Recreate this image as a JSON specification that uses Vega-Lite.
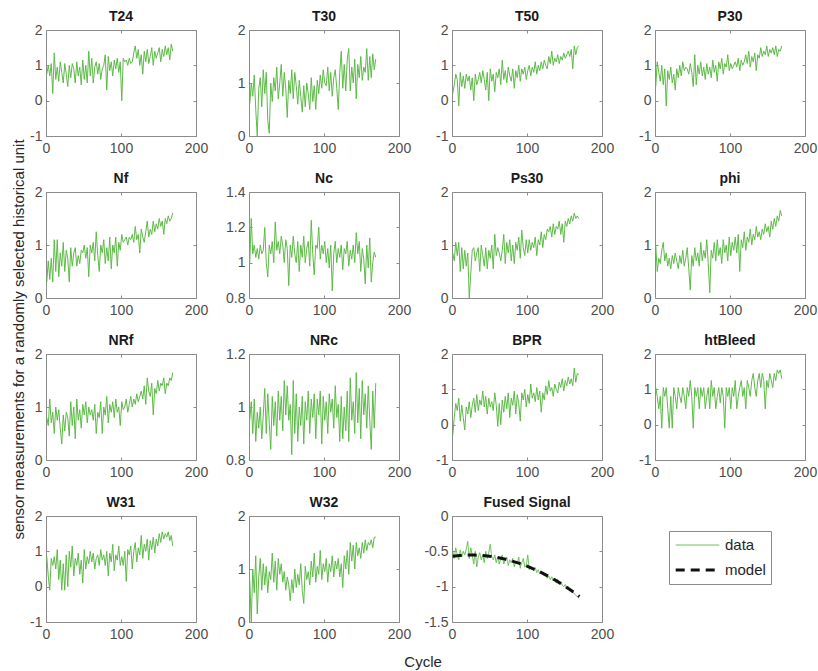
{
"$schema":"https://vega.github.io/schema/vega-lite/v6.json",
"padding":{"left":12,"top":9,"right":5,"bottom":5},
"title":{"text":"sensor measurements for a randomly selected historical unit","orient":"left","anchor":"middle","fontSize":15,"fontWeight":"normal","color":"#262626","offset":2},
"datasets":{
"sensors":[
{"c":1,"T24":0.75,"T30":0.6,"T50":0.2,"P30":0.4,"Nf":0.3,"Nc":1.0,"Ps30":0.85,"phi":1.0,"NRf":0.8,"NRc":0.95,"BPR":-0.3,"htBleed":1.05,"W31":0.85,"W32":0.8,"Fused":-0.5},
{"c":3,"T24":1.0,"T30":1.0,"T50":0.45,"P30":1.1,"Nf":0.7,"Nc":1.25,"Ps30":0.7,"phi":0.5,"NRf":0.65,"NRc":1.02,"BPR":0.2,"htBleed":0.8,"W31":0.3,"W32":0.0,"Fused":-0.6},
{"c":5,"T24":0.7,"T30":0.75,"T50":0.75,"P30":0.8,"Nf":0.35,"Nc":1.05,"Ps30":1.05,"phi":0.75,"NRf":1.15,"NRc":0.9,"BPR":0.6,"htBleed":0.45,"W31":-0.1,"W32":1.0,"Fused":-0.45},
{"c":7,"T24":1.05,"T30":1.15,"T50":0.6,"P30":0.55,"Nf":0.75,"Nc":1.1,"Ps30":0.8,"phi":0.65,"NRf":0.7,"NRc":1.03,"BPR":0.4,"htBleed":0.8,"W31":0.8,"W32":0.55,"Fused":-0.55},
{"c":9,"T24":0.2,"T30":0.5,"T50":-0.15,"P30":1.0,"Nf":0.3,"Nc":1.03,"Ps30":1.05,"phi":0.9,"NRf":0.9,"NRc":0.87,"BPR":0.75,"htBleed":-0.1,"W31":0.6,"W32":1.25,"Fused":-0.62},
{"c":11,"T24":1.35,"T30":0.0,"T50":0.8,"P30":0.45,"Nf":1.1,"Nc":1.08,"Ps30":0.5,"phi":1.05,"NRf":0.5,"NRc":0.98,"BPR":0.1,"htBleed":1.05,"W31":0.85,"W32":0.15,"Fused":-0.48},
{"c":13,"T24":0.6,"T30":0.9,"T50":0.4,"P30":0.9,"Nf":0.5,"Nc":1.02,"Ps30":0.95,"phi":0.7,"NRf":1.0,"NRc":0.92,"BPR":0.55,"htBleed":0.8,"W31":0.5,"W32":0.85,"Fused":-0.58},
{"c":15,"T24":0.95,"T30":1.1,"T50":0.7,"P30":-0.15,"Nf":1.1,"Nc":1.1,"Ps30":0.55,"phi":0.85,"NRf":0.75,"NRc":1.0,"BPR":0.2,"htBleed":1.05,"W31":1.05,"W32":1.2,"Fused":-0.5},
{"c":17,"T24":0.55,"T30":0.55,"T50":0.35,"P30":0.85,"Nf":0.4,"Nc":1.05,"Ps30":0.9,"phi":0.6,"NRf":0.95,"NRc":0.88,"BPR":-0.15,"htBleed":0.45,"W31":0.2,"W32":0.6,"Fused":-0.55},
{"c":19,"T24":1.1,"T30":1.25,"T50":0.75,"P30":0.6,"Nf":0.85,"Nc":1.07,"Ps30":0.6,"phi":0.75,"NRf":0.6,"NRc":0.97,"BPR":0.5,"htBleed":-0.1,"W31":0.75,"W32":1.1,"Fused":-0.47},
{"c":21,"T24":0.8,"T30":0.8,"T50":0.55,"P30":0.95,"Nf":0.6,"Nc":1.2,"Ps30":0.85,"phi":0.55,"NRf":0.3,"NRc":1.07,"BPR":0.3,"htBleed":0.8,"W31":-0.1,"W32":0.7,"Fused":-0.36},
{"c":23,"T24":0.5,"T30":1.2,"T50":0.7,"P30":0.5,"Nf":1.05,"Nc":1.0,"Ps30":0.0,"phi":0.8,"NRf":0.85,"NRc":0.9,"BPR":0.65,"htBleed":-0.1,"W31":0.65,"W32":1.05,"Fused":-0.6},
{"c":25,"T24":1.05,"T30":0.3,"T50":0.3,"P30":0.75,"Nf":0.5,"Nc":0.92,"Ps30":0.45,"phi":0.65,"NRf":0.55,"NRc":1.05,"BPR":0.2,"htBleed":1.05,"W31":-0.1,"W32":0.55,"Fused":-0.45},
{"c":27,"T24":0.75,"T30":0.05,"T50":0.65,"P30":0.3,"Nf":0.9,"Nc":1.1,"Ps30":0.9,"phi":0.85,"NRf":0.9,"NRc":0.94,"BPR":0.55,"htBleed":0.8,"W31":0.9,"W32":0.95,"Fused":-0.55},
{"c":29,"T24":0.4,"T30":1.0,"T50":0.0,"P30":0.9,"Nf":0.75,"Nc":1.05,"Ps30":0.95,"phi":0.7,"NRf":0.8,"NRc":0.84,"BPR":0.75,"htBleed":0.45,"W31":0.0,"W32":0.8,"Fused":-0.68},
{"c":31,"T24":1.0,"T30":0.65,"T50":0.75,"P30":0.65,"Nf":0.3,"Nc":1.12,"Ps30":0.7,"phi":0.55,"NRf":0.45,"NRc":1.04,"BPR":0.35,"htBleed":1.05,"W31":1.0,"W32":1.3,"Fused":-0.5},
{"c":33,"T24":0.65,"T30":1.1,"T50":0.45,"P30":1.0,"Nf":0.95,"Nc":1.0,"Ps30":0.85,"phi":0.8,"NRf":1.1,"NRc":0.93,"BPR":0.85,"htBleed":0.8,"W31":0.55,"W32":0.75,"Fused":-0.72},
{"c":35,"T24":1.05,"T30":0.85,"T50":0.6,"P30":0.7,"Nf":0.6,"Nc":1.23,"Ps30":0.95,"phi":0.65,"NRf":0.65,"NRc":1.02,"BPR":0.4,"htBleed":0.62,"W31":1.15,"W32":1.15,"Fused":-0.58},
{"c":37,"T24":0.9,"T30":1.3,"T50":0.8,"P30":1.1,"Nf":0.85,"Nc":1.07,"Ps30":0.5,"phi":0.9,"NRf":1.0,"NRc":0.89,"BPR":0.7,"htBleed":1.05,"W31":0.3,"W32":0.6,"Fused":-0.52},
{"c":39,"T24":0.5,"T30":0.7,"T50":0.5,"P30":0.85,"Nf":0.95,"Nc":1.12,"Ps30":1.0,"phi":0.6,"NRf":0.4,"NRc":1.06,"BPR":0.55,"htBleed":0.8,"W31":0.8,"W32":1.2,"Fused":-0.62},
{"c":41,"T24":1.1,"T30":1.0,"T50":0.85,"P30":0.95,"Nf":0.6,"Nc":1.05,"Ps30":0.8,"phi":0.75,"NRf":1.15,"NRc":0.95,"BPR":0.95,"htBleed":0.45,"W31":0.6,"W32":0.9,"Fused":-0.55},
{"c":43,"T24":0.7,"T30":1.35,"T50":0.6,"P30":0.9,"Nf":0.8,"Nc":1.15,"Ps30":0.6,"phi":0.95,"NRf":0.75,"NRc":1.04,"BPR":0.5,"htBleed":1.05,"W31":0.95,"W32":1.1,"Fused":-0.66},
{"c":45,"T24":0.95,"T30":0.75,"T50":0.3,"P30":0.75,"Nf":0.65,"Nc":1.1,"Ps30":0.95,"phi":0.55,"NRf":0.95,"NRc":0.91,"BPR":0.8,"htBleed":0.8,"W31":0.35,"W32":0.75,"Fused":-0.5},
{"c":47,"T24":0.45,"T30":1.2,"T50":0.8,"P30":1.05,"Nf":0.9,"Nc":1.0,"Ps30":0.55,"phi":0.15,"NRf":0.6,"NRc":1.1,"BPR":0.3,"htBleed":1.25,"W31":0.75,"W32":0.95,"Fused":-0.6},
{"c":49,"T24":1.15,"T30":0.9,"T50":0.0,"P30":0.8,"Nf":0.85,"Nc":1.13,"Ps30":0.9,"phi":0.8,"NRf":1.05,"NRc":0.97,"BPR":0.75,"htBleed":0.8,"W31":0.1,"W32":0.6,"Fused":-0.52},
{"c":51,"T24":0.6,"T30":0.35,"T50":0.9,"P30":0.4,"Nf":1.0,"Nc":1.08,"Ps30":0.75,"phi":0.6,"NRf":0.85,"NRc":1.08,"BPR":0.5,"htBleed":-0.1,"W31":1.05,"W32":0.85,"Fused":-0.4},
{"c":53,"T24":1.0,"T30":1.05,"T50":0.55,"P30":1.3,"Nf":0.75,"Nc":0.87,"Ps30":1.0,"phi":0.95,"NRf":1.1,"NRc":0.95,"BPR":0.65,"htBleed":1.05,"W31":0.5,"W32":0.7,"Fused":-0.58},
{"c":55,"T24":0.5,"T30":0.8,"T50":0.75,"P30":0.45,"Nf":0.95,"Nc":1.1,"Ps30":0.55,"phi":0.7,"NRf":0.7,"NRc":1.01,"BPR":0.4,"htBleed":0.8,"W31":0.85,"W32":0.4,"Fused":-0.62},
{"c":57,"T24":1.4,"T30":1.25,"T50":0.25,"P30":1.0,"Nf":0.4,"Nc":1.03,"Ps30":1.2,"phi":0.85,"NRf":1.0,"NRc":0.82,"BPR":0.9,"htBleed":1.05,"W31":0.65,"W32":0.8,"Fused":-0.55},
{"c":59,"T24":0.7,"T30":0.7,"T50":0.8,"P30":0.75,"Nf":1.0,"Nc":1.15,"Ps30":0.8,"phi":0.6,"NRf":0.85,"NRc":1.1,"BPR":0.55,"htBleed":0.45,"W31":1.0,"W32":0.55,"Fused":-0.66},
{"c":61,"T24":1.2,"T30":1.2,"T50":0.65,"P30":1.1,"Nf":0.85,"Nc":1.05,"Ps30":0.95,"phi":1.05,"NRf":0.95,"NRc":0.9,"BPR":-0.05,"htBleed":1.05,"W31":0.7,"W32":1.0,"Fused":-0.58},
{"c":63,"T24":0.5,"T30":0.95,"T50":0.9,"P30":0.7,"Nf":1.05,"Nc":1.0,"Ps30":0.85,"phi":0.7,"NRf":0.75,"NRc":1.05,"BPR":0.6,"htBleed":0.8,"W31":0.95,"W32":0.65,"Fused":-0.68},
{"c":65,"T24":0.95,"T30":0.6,"T50":0.45,"P30":0.95,"Nf":0.7,"Nc":1.12,"Ps30":0.7,"phi":0.9,"NRf":1.05,"NRc":0.87,"BPR":0.0,"htBleed":1.05,"W31":0.5,"W32":0.9,"Fused":-0.6},
{"c":67,"T24":1.1,"T30":1.05,"T50":1.15,"P30":0.6,"Nf":1.25,"Nc":0.95,"Ps30":0.9,"phi":0.75,"NRf":0.5,"NRc":1.0,"BPR":0.7,"htBleed":0.45,"W31":0.8,"W32":0.7,"Fused":-0.55},
{"c":69,"T24":0.75,"T30":0.75,"T50":0.6,"P30":1.05,"Nf":0.8,"Nc":1.1,"Ps30":1.2,"phi":1.1,"NRf":0.9,"NRc":0.93,"BPR":0.35,"htBleed":0.8,"W31":0.9,"W32":1.1,"Fused":-0.68},
{"c":71,"T24":1.05,"T30":0.45,"T50":0.85,"P30":0.75,"Nf":0.5,"Nc":1.03,"Ps30":0.65,"phi":0.65,"NRf":0.8,"NRc":1.04,"BPR":0.8,"htBleed":1.05,"W31":0.6,"W32":0.6,"Fused":-0.62},
{"c":73,"T24":0.6,"T30":0.95,"T50":0.5,"P30":0.95,"Nf":1.0,"Nc":1.15,"Ps30":1.05,"phi":0.1,"NRf":1.1,"NRc":0.86,"BPR":0.45,"htBleed":0.45,"W31":1.05,"W32":0.35,"Fused":-0.58},
{"c":75,"T24":0.9,"T30":0.55,"T50":0.95,"P30":0.65,"Nf":0.85,"Nc":1.0,"Ps30":0.85,"phi":0.9,"NRf":0.5,"NRc":1.02,"BPR":0.9,"htBleed":1.25,"W31":0.75,"W32":1.05,"Fused":-0.7},
{"c":77,"T24":1.0,"T30":1.0,"T50":0.7,"P30":1.15,"Nf":1.1,"Nc":1.08,"Ps30":1.1,"phi":0.75,"NRf":1.0,"NRc":0.95,"BPR":0.2,"htBleed":0.8,"W31":0.9,"W32":0.8,"Fused":-0.62},
{"c":79,"T24":1.3,"T30":0.8,"T50":0.55,"P30":0.8,"Nf":0.65,"Nc":1.12,"Ps30":0.7,"phi":1.05,"NRf":0.85,"NRc":1.06,"BPR":0.75,"htBleed":1.05,"W31":0.6,"W32":0.95,"Fused":-0.66},
{"c":81,"T24":0.3,"T30":0.5,"T50":0.9,"P30":1.0,"Nf":0.95,"Nc":0.98,"Ps30":1.0,"phi":0.7,"NRf":1.2,"NRc":0.9,"BPR":0.55,"htBleed":0.45,"W31":1.0,"W32":0.7,"Fused":-0.6},
{"c":83,"T24":1.25,"T30":1.1,"T50":0.35,"P30":0.55,"Nf":0.7,"Nc":1.24,"Ps30":0.65,"phi":1.1,"NRf":0.7,"NRc":1.03,"BPR":0.95,"htBleed":0.8,"W31":0.3,"W32":1.15,"Fused":-0.72},
{"c":85,"T24":0.85,"T30":0.65,"T50":0.85,"P30":1.1,"Nf":1.15,"Nc":1.05,"Ps30":1.05,"phi":0.8,"NRf":1.05,"NRc":0.96,"BPR":0.3,"htBleed":1.05,"W31":0.95,"W32":0.85,"Fused":-0.64},
{"c":87,"T24":1.1,"T30":0.95,"T50":0.65,"P30":0.9,"Nf":0.55,"Nc":0.93,"Ps30":0.9,"phi":0.95,"NRf":0.9,"NRc":1.05,"BPR":0.85,"htBleed":0.62,"W31":0.7,"W32":1.3,"Fused":-0.68},
{"c":89,"T24":0.7,"T30":0.5,"T50":1.0,"P30":1.2,"Nf":1.0,"Nc":1.1,"Ps30":1.15,"phi":0.65,"NRf":1.1,"NRc":0.88,"BPR":0.6,"htBleed":1.05,"W31":1.2,"W32":0.75,"Fused":-0.58},
{"c":91,"T24":1.15,"T30":1.05,"T50":0.55,"P30":0.75,"Nf":0.85,"Nc":1.08,"Ps30":0.75,"phi":1.1,"NRf":0.8,"NRc":1.03,"BPR":0.1,"htBleed":0.8,"W31":0.45,"W32":1.05,"Fused":-0.74},
{"c":93,"T24":0.9,"T30":0.8,"T50":0.9,"P30":1.05,"Nf":1.15,"Nc":1.2,"Ps30":1.28,"phi":0.85,"NRf":1.15,"NRc":0.97,"BPR":0.9,"htBleed":-0.1,"W31":0.9,"W32":0.9,"Fused":-0.66},
{"c":95,"T24":1.2,"T30":1.15,"T50":0.75,"P30":0.95,"Nf":0.6,"Nc":1.02,"Ps30":0.95,"phi":1.0,"NRf":0.9,"NRc":1.06,"BPR":0.7,"htBleed":1.05,"W31":0.75,"W32":1.35,"Fused":-0.6},
{"c":97,"T24":0.8,"T30":0.9,"T50":0.95,"P30":1.3,"Nf":1.05,"Nc":1.1,"Ps30":0.8,"phi":0.7,"NRf":1.0,"NRc":0.86,"BPR":1.0,"htBleed":0.8,"W31":1.15,"W32":0.8,"Fused":-0.72},
{"c":99,"T24":1.1,"T30":1.25,"T50":0.6,"P30":0.85,"Nf":0.9,"Nc":1.05,"Ps30":1.1,"phi":1.15,"NRf":0.65,"NRc":1.04,"BPR":0.5,"htBleed":1.05,"W31":0.6,"W32":1.1,"Fused":-0.7},
{"c":101,"T24":0.0,"T30":1.0,"T50":0.85,"P30":1.05,"Nf":1.2,"Nc":1.12,"Ps30":0.85,"phi":0.8,"NRf":1.1,"NRc":0.95,"BPR":0.85,"htBleed":0.45,"W31":0.85,"W32":0.95,"Fused":-0.55},
{"c":103,"T24":1.2,"T30":0.95,"T50":1.0,"P30":0.9,"Nf":1.05,"Nc":1.0,"Ps30":1.1,"phi":1.05,"NRf":0.95,"NRc":1.02,"BPR":0.6,"htBleed":1.05,"W31":0.6,"W32":1.2,"Fused":-0.76},
{"c":105,"T24":1.1,"T30":1.3,"T50":0.7,"P30":1.0,"Nf":1.1,"Nc":1.08,"Ps30":0.9,"phi":0.9,"NRf":1.0,"NRc":0.9,"BPR":1.15,"htBleed":0.8,"W31":1.0,"W32":0.75,"Fused":-0.72},
{"c":107,"T24":1.15,"T30":0.85,"T50":0.95,"P30":1.1,"Nf":1.15,"Nc":0.97,"Ps30":1.05,"phi":1.15,"NRf":1.15,"NRc":1.05,"BPR":0.75,"htBleed":1.25,"W31":0.15,"W32":1.1,"Fused":-0.74},
{"c":109,"T24":1.0,"T30":1.2,"T50":0.8,"P30":0.95,"Nf":1.0,"Nc":1.1,"Ps30":0.95,"phi":0.85,"NRf":0.9,"NRc":0.98,"BPR":0.9,"htBleed":0.45,"W31":1.05,"W32":0.95,"Fused":-0.78},
{"c":111,"T24":1.2,"T30":0.75,"T50":1.1,"P30":1.2,"Nf":1.15,"Nc":0.84,"Ps30":1.15,"phi":1.2,"NRf":1.05,"NRc":1.03,"BPR":0.65,"htBleed":0.8,"W31":0.9,"W32":1.25,"Fused":-0.73},
{"c":113,"T24":1.05,"T30":1.1,"T50":0.75,"P30":0.85,"Nf":1.1,"Nc":1.05,"Ps30":0.8,"phi":0.5,"NRf":1.2,"NRc":0.92,"BPR":1.05,"htBleed":1.05,"W31":1.15,"W32":0.85,"Fused":-0.8},
{"c":115,"T24":1.1,"T30":1.25,"T50":1.0,"P30":1.15,"Nf":1.2,"Nc":1.12,"Ps30":1.1,"phi":1.1,"NRf":1.0,"NRc":1.08,"BPR":0.7,"htBleed":1.25,"W31":0.5,"W32":1.15,"Fused":-0.76},
{"c":117,"T24":1.35,"T30":0.9,"T50":0.85,"P30":1.0,"Nf":1.05,"Nc":1.0,"Ps30":1.0,"phi":0.95,"NRf":1.15,"NRc":0.96,"BPR":0.95,"htBleed":0.8,"W31":1.0,"W32":1.0,"Fused":-0.82},
{"c":119,"T24":1.55,"T30":0.5,"T50":1.1,"P30":1.1,"Nf":1.35,"Nc":1.08,"Ps30":1.25,"phi":1.25,"NRf":1.05,"NRc":1.01,"BPR":0.35,"htBleed":1.05,"W31":1.25,"W32":1.2,"Fused":-0.79},
{"c":121,"T24":1.2,"T30":1.2,"T50":0.9,"P30":1.3,"Nf":1.1,"Nc":1.03,"Ps30":0.95,"phi":0.9,"NRf":1.25,"NRc":0.87,"BPR":0.9,"htBleed":0.45,"W31":0.7,"W32":0.85,"Fused":-0.8},
{"c":123,"T24":1.45,"T30":1.6,"T50":1.15,"P30":1.05,"Nf":1.2,"Nc":1.1,"Ps30":1.2,"phi":1.15,"NRf":1.1,"NRc":1.04,"BPR":0.7,"htBleed":1.25,"W31":1.1,"W32":1.1,"Fused":-0.85},
{"c":125,"T24":1.0,"T30":0.9,"T50":1.0,"P30":1.4,"Nf":0.85,"Nc":0.96,"Ps30":1.1,"phi":1.05,"NRf":1.2,"NRc":0.88,"BPR":1.1,"htBleed":1.05,"W31":0.9,"W32":0.65,"Fused":-0.82},
{"c":127,"T24":1.3,"T30":1.35,"T50":0.9,"P30":0.95,"Nf":1.3,"Nc":1.08,"Ps30":1.3,"phi":1.3,"NRf":1.3,"NRc":1.0,"BPR":0.85,"htBleed":0.8,"W31":1.45,"W32":1.25,"Fused":-0.88},
{"c":129,"T24":0.75,"T30":0.85,"T50":1.25,"P30":1.25,"Nf":1.15,"Nc":1.05,"Ps30":1.25,"phi":1.0,"NRf":1.15,"NRc":0.91,"BPR":1.25,"htBleed":1.25,"W31":0.8,"W32":1.0,"Fused":-0.85},
{"c":131,"T24":1.4,"T30":1.45,"T50":1.05,"P30":1.1,"Nf":1.05,"Nc":1.12,"Ps30":1.35,"phi":1.2,"NRf":1.4,"NRc":1.06,"BPR":0.95,"htBleed":1.45,"W31":1.2,"W32":1.35,"Fused":-0.9},
{"c":133,"T24":1.1,"T30":1.65,"T50":1.4,"P30":1.35,"Nf":1.25,"Nc":0.98,"Ps30":1.15,"phi":1.1,"NRf":1.05,"NRc":0.87,"BPR":1.05,"htBleed":1.05,"W31":1.0,"W32":0.9,"Fused":-0.86},
{"c":135,"T24":1.45,"T30":0.85,"T50":1.0,"P30":0.85,"Nf":1.45,"Nc":1.07,"Ps30":1.4,"phi":1.35,"NRf":1.55,"NRc":1.11,"BPR":0.8,"htBleed":0.8,"W31":1.35,"W32":1.5,"Fused":-0.92},
{"c":137,"T24":1.05,"T30":1.3,"T50":1.2,"P30":1.3,"Nf":1.15,"Nc":1.02,"Ps30":1.2,"phi":1.15,"NRf":1.3,"NRc":0.95,"BPR":1.15,"htBleed":1.25,"W31":0.75,"W32":1.15,"Fused":-0.88},
{"c":139,"T24":1.25,"T30":1.0,"T50":1.1,"P30":1.2,"Nf":1.3,"Nc":1.1,"Ps30":1.35,"phi":1.25,"NRf":1.2,"NRc":1.02,"BPR":1.0,"htBleed":1.45,"W31":1.3,"W32":1.45,"Fused":-0.95},
{"c":141,"T24":1.5,"T30":1.45,"T50":1.3,"P30":1.5,"Nf":1.2,"Nc":1.0,"Ps30":1.3,"phi":1.1,"NRf":1.45,"NRc":0.9,"BPR":0.9,"htBleed":1.05,"W31":1.05,"W32":1.0,"Fused":-0.9},
{"c":143,"T24":1.0,"T30":0.7,"T50":1.05,"P30":1.25,"Nf":1.45,"Nc":1.17,"Ps30":1.45,"phi":1.3,"NRf":0.85,"NRc":1.13,"BPR":1.2,"htBleed":1.45,"W31":1.4,"W32":1.5,"Fused":-0.96},
{"c":145,"T24":1.4,"T30":1.35,"T50":1.25,"P30":1.4,"Nf":1.25,"Nc":1.05,"Ps30":1.2,"phi":1.2,"NRf":1.35,"NRc":0.94,"BPR":1.05,"htBleed":1.25,"W31":0.95,"W32":1.25,"Fused":-0.93},
{"c":147,"T24":1.2,"T30":1.1,"T50":1.15,"P30":1.3,"Nf":1.4,"Nc":1.12,"Ps30":1.4,"phi":1.4,"NRf":1.25,"NRc":1.07,"BPR":1.3,"htBleed":0.45,"W31":1.35,"W32":1.4,"Fused":-0.98},
{"c":149,"T24":1.35,"T30":1.5,"T50":1.35,"P30":1.55,"Nf":1.3,"Nc":0.95,"Ps30":1.05,"phi":1.25,"NRf":1.5,"NRc":0.88,"BPR":0.95,"htBleed":1.25,"W31":1.15,"W32":1.2,"Fused":-1.0},
{"c":151,"T24":1.5,"T30":1.05,"T50":1.2,"P30":1.25,"Nf":1.5,"Nc":1.08,"Ps30":1.45,"phi":1.35,"NRf":1.3,"NRc":1.1,"BPR":1.25,"htBleed":1.05,"W31":1.5,"W32":1.5,"Fused":-0.97},
{"c":153,"T24":1.1,"T30":1.3,"T50":1.3,"P30":1.45,"Nf":1.35,"Nc":1.02,"Ps30":1.35,"phi":1.15,"NRf":1.45,"NRc":0.97,"BPR":1.1,"htBleed":1.45,"W31":1.25,"W32":1.3,"Fused":-1.03},
{"c":155,"T24":1.45,"T30":1.2,"T50":1.4,"P30":1.35,"Nf":1.45,"Nc":0.88,"Ps30":1.5,"phi":1.45,"NRf":1.4,"NRc":1.05,"BPR":1.35,"htBleed":1.25,"W31":1.55,"W32":1.55,"Fused":-1.0},
{"c":157,"T24":1.25,"T30":1.65,"T50":1.25,"P30":1.5,"Nf":1.2,"Nc":1.1,"Ps30":1.4,"phi":1.3,"NRf":1.55,"NRc":0.92,"BPR":1.15,"htBleed":1.05,"W31":1.35,"W32":1.35,"Fused":-1.06},
{"c":159,"T24":1.55,"T30":1.05,"T50":1.45,"P30":1.3,"Nf":1.5,"Nc":0.97,"Ps30":1.55,"phi":1.5,"NRf":1.25,"NRc":1.08,"BPR":1.3,"htBleed":1.45,"W31":1.5,"W32":1.5,"Fused":-1.04},
{"c":161,"T24":1.3,"T30":1.5,"T50":0.9,"P30":1.55,"Nf":1.4,"Nc":1.14,"Ps30":1.45,"phi":1.35,"NRf":1.45,"NRc":0.95,"BPR":1.1,"htBleed":1.25,"W31":1.4,"W32":1.45,"Fused":-1.08},
{"c":163,"T24":1.5,"T30":1.1,"T50":1.55,"P30":1.25,"Nf":1.55,"Nc":0.89,"Ps30":1.6,"phi":1.55,"NRf":1.4,"NRc":0.84,"BPR":1.6,"htBleed":1.55,"W31":1.55,"W32":1.55,"Fused":-1.1},
{"c":165,"T24":1.15,"T30":1.55,"T50":1.3,"P30":1.45,"Nf":1.45,"Nc":1.0,"Ps30":1.5,"phi":1.45,"NRf":1.55,"NRc":1.06,"BPR":1.2,"htBleed":1.45,"W31":1.3,"W32":1.4,"Fused":-1.12},
{"c":167,"T24":1.6,"T30":1.25,"T50":1.5,"P30":1.4,"Nf":1.5,"Nc":1.06,"Ps30":1.55,"phi":1.65,"NRf":1.5,"NRc":0.92,"BPR":1.45,"htBleed":1.55,"W31":1.45,"W32":1.6,"Fused":-1.14},
{"c":169,"T24":1.4,"T30":1.45,"T50":1.55,"P30":1.55,"Nf":1.6,"Nc":1.03,"Ps30":1.5,"phi":1.55,"NRf":1.65,"NRc":1.09,"BPR":1.4,"htBleed":1.3,"W31":1.15,"W32":1.6,"Fused":-1.16}
],
"model":[
{"c":1,"v":-0.569},{"c":10,"v":-0.559},{"c":20,"v":-0.553},{"c":30,"v":-0.553},{"c":40,"v":-0.559},{"c":50,"v":-0.57},{"c":60,"v":-0.587},{"c":70,"v":-0.609},{"c":80,"v":-0.637},{"c":90,"v":-0.671},{"c":100,"v":-0.71},{"c":110,"v":-0.754},{"c":120,"v":-0.805},{"c":130,"v":-0.861},{"c":140,"v":-0.922},{"c":150,"v":-0.989},{"c":160,"v":-1.062},{"c":170,"v":-1.14}
]
},
"data":{"name":"sensors"},
"vconcat":[
{"title":{"text":"Cycle","orient":"bottom","anchor":"middle","fontSize":15,"fontWeight":"normal","color":"#262626","offset":13},
"columns":4,"bounds":"flush","spacing":{"row":56,"column":53},
"concat":[
{"title":"T24","layer":[{"mark":"line","encoding":{"x":{"field":"c","type":"quantitative","scale":{"domain":[0,200]},"axis":{"title":null,"values":[0,100,200]}},"y":{"field":"T24","type":"quantitative","scale":{"domain":[-1,2]},"axis":{"title":null,"values":[-1,0,1,2]}}}},{"mark":{"type":"line","strokeOpacity":0},"encoding":{"x":{"field":"c","type":"quantitative","scale":{"domain":[0,200]},"axis":{"title":null,"orient":"top","labels":false,"values":[0,100,200]}},"y":{"field":"T24","type":"quantitative","scale":{"domain":[-1,2]},"axis":{"title":null,"orient":"right","labels":false,"values":[-1,0,1,2]}}}}],"resolve":{"axis":{"x":"independent","y":"independent"}}},
{"title":"T30","layer":[{"mark":"line","encoding":{"x":{"field":"c","type":"quantitative","scale":{"domain":[0,200]},"axis":{"title":null,"values":[0,100,200]}},"y":{"field":"T30","type":"quantitative","scale":{"domain":[0,2]},"axis":{"title":null,"values":[0,1,2]}}}},{"mark":{"type":"line","strokeOpacity":0},"encoding":{"x":{"field":"c","type":"quantitative","scale":{"domain":[0,200]},"axis":{"title":null,"orient":"top","labels":false,"values":[0,100,200]}},"y":{"field":"T30","type":"quantitative","scale":{"domain":[0,2]},"axis":{"title":null,"orient":"right","labels":false,"values":[0,1,2]}}}}],"resolve":{"axis":{"x":"independent","y":"independent"}}},
{"title":"T50","layer":[{"mark":"line","encoding":{"x":{"field":"c","type":"quantitative","scale":{"domain":[0,200]},"axis":{"title":null,"values":[0,100,200]}},"y":{"field":"T50","type":"quantitative","scale":{"domain":[-1,2]},"axis":{"title":null,"values":[-1,0,1,2]}}}},{"mark":{"type":"line","strokeOpacity":0},"encoding":{"x":{"field":"c","type":"quantitative","scale":{"domain":[0,200]},"axis":{"title":null,"orient":"top","labels":false,"values":[0,100,200]}},"y":{"field":"T50","type":"quantitative","scale":{"domain":[-1,2]},"axis":{"title":null,"orient":"right","labels":false,"values":[-1,0,1,2]}}}}],"resolve":{"axis":{"x":"independent","y":"independent"}}},
{"title":"P30","layer":[{"mark":"line","encoding":{"x":{"field":"c","type":"quantitative","scale":{"domain":[0,200]},"axis":{"title":null,"values":[0,100,200]}},"y":{"field":"P30","type":"quantitative","scale":{"domain":[-1,2]},"axis":{"title":null,"values":[-1,0,1,2]}}}},{"mark":{"type":"line","strokeOpacity":0},"encoding":{"x":{"field":"c","type":"quantitative","scale":{"domain":[0,200]},"axis":{"title":null,"orient":"top","labels":false,"values":[0,100,200]}},"y":{"field":"P30","type":"quantitative","scale":{"domain":[-1,2]},"axis":{"title":null,"orient":"right","labels":false,"values":[-1,0,1,2]}}}}],"resolve":{"axis":{"x":"independent","y":"independent"}}},
{"title":"Nf","layer":[{"mark":"line","encoding":{"x":{"field":"c","type":"quantitative","scale":{"domain":[0,200]},"axis":{"title":null,"values":[0,100,200]}},"y":{"field":"Nf","type":"quantitative","scale":{"domain":[0,2]},"axis":{"title":null,"values":[0,1,2]}}}},{"mark":{"type":"line","strokeOpacity":0},"encoding":{"x":{"field":"c","type":"quantitative","scale":{"domain":[0,200]},"axis":{"title":null,"orient":"top","labels":false,"values":[0,100,200]}},"y":{"field":"Nf","type":"quantitative","scale":{"domain":[0,2]},"axis":{"title":null,"orient":"right","labels":false,"values":[0,1,2]}}}}],"resolve":{"axis":{"x":"independent","y":"independent"}}},
{"title":"Nc","layer":[{"mark":"line","encoding":{"x":{"field":"c","type":"quantitative","scale":{"domain":[0,200]},"axis":{"title":null,"values":[0,100,200]}},"y":{"field":"Nc","type":"quantitative","scale":{"domain":[0.8,1.4]},"axis":{"title":null,"values":[0.8,1,1.2,1.4]}}}},{"mark":{"type":"line","strokeOpacity":0},"encoding":{"x":{"field":"c","type":"quantitative","scale":{"domain":[0,200]},"axis":{"title":null,"orient":"top","labels":false,"values":[0,100,200]}},"y":{"field":"Nc","type":"quantitative","scale":{"domain":[0.8,1.4]},"axis":{"title":null,"orient":"right","labels":false,"values":[0.8,1,1.2,1.4]}}}}],"resolve":{"axis":{"x":"independent","y":"independent"}}},
{"title":"Ps30","layer":[{"mark":"line","encoding":{"x":{"field":"c","type":"quantitative","scale":{"domain":[0,200]},"axis":{"title":null,"values":[0,100,200]}},"y":{"field":"Ps30","type":"quantitative","scale":{"domain":[0,2]},"axis":{"title":null,"values":[0,1,2]}}}},{"mark":{"type":"line","strokeOpacity":0},"encoding":{"x":{"field":"c","type":"quantitative","scale":{"domain":[0,200]},"axis":{"title":null,"orient":"top","labels":false,"values":[0,100,200]}},"y":{"field":"Ps30","type":"quantitative","scale":{"domain":[0,2]},"axis":{"title":null,"orient":"right","labels":false,"values":[0,1,2]}}}}],"resolve":{"axis":{"x":"independent","y":"independent"}}},
{"title":"phi","layer":[{"mark":"line","encoding":{"x":{"field":"c","type":"quantitative","scale":{"domain":[0,200]},"axis":{"title":null,"values":[0,100,200]}},"y":{"field":"phi","type":"quantitative","scale":{"domain":[0,2]},"axis":{"title":null,"values":[0,1,2]}}}},{"mark":{"type":"line","strokeOpacity":0},"encoding":{"x":{"field":"c","type":"quantitative","scale":{"domain":[0,200]},"axis":{"title":null,"orient":"top","labels":false,"values":[0,100,200]}},"y":{"field":"phi","type":"quantitative","scale":{"domain":[0,2]},"axis":{"title":null,"orient":"right","labels":false,"values":[0,1,2]}}}}],"resolve":{"axis":{"x":"independent","y":"independent"}}},
{"title":"NRf","layer":[{"mark":"line","encoding":{"x":{"field":"c","type":"quantitative","scale":{"domain":[0,200]},"axis":{"title":null,"values":[0,100,200]}},"y":{"field":"NRf","type":"quantitative","scale":{"domain":[0,2]},"axis":{"title":null,"values":[0,1,2]}}}},{"mark":{"type":"line","strokeOpacity":0},"encoding":{"x":{"field":"c","type":"quantitative","scale":{"domain":[0,200]},"axis":{"title":null,"orient":"top","labels":false,"values":[0,100,200]}},"y":{"field":"NRf","type":"quantitative","scale":{"domain":[0,2]},"axis":{"title":null,"orient":"right","labels":false,"values":[0,1,2]}}}}],"resolve":{"axis":{"x":"independent","y":"independent"}}},
{"title":"NRc","layer":[{"mark":"line","encoding":{"x":{"field":"c","type":"quantitative","scale":{"domain":[0,200]},"axis":{"title":null,"values":[0,100,200]}},"y":{"field":"NRc","type":"quantitative","scale":{"domain":[0.8,1.2]},"axis":{"title":null,"values":[0.8,1,1.2]}}}},{"mark":{"type":"line","strokeOpacity":0},"encoding":{"x":{"field":"c","type":"quantitative","scale":{"domain":[0,200]},"axis":{"title":null,"orient":"top","labels":false,"values":[0,100,200]}},"y":{"field":"NRc","type":"quantitative","scale":{"domain":[0.8,1.2]},"axis":{"title":null,"orient":"right","labels":false,"values":[0.8,1,1.2]}}}}],"resolve":{"axis":{"x":"independent","y":"independent"}}},
{"title":"BPR","layer":[{"mark":"line","encoding":{"x":{"field":"c","type":"quantitative","scale":{"domain":[0,200]},"axis":{"title":null,"values":[0,100,200]}},"y":{"field":"BPR","type":"quantitative","scale":{"domain":[-1,2]},"axis":{"title":null,"values":[-1,0,1,2]}}}},{"mark":{"type":"line","strokeOpacity":0},"encoding":{"x":{"field":"c","type":"quantitative","scale":{"domain":[0,200]},"axis":{"title":null,"orient":"top","labels":false,"values":[0,100,200]}},"y":{"field":"BPR","type":"quantitative","scale":{"domain":[-1,2]},"axis":{"title":null,"orient":"right","labels":false,"values":[-1,0,1,2]}}}}],"resolve":{"axis":{"x":"independent","y":"independent"}}},
{"title":"htBleed","layer":[{"mark":"line","encoding":{"x":{"field":"c","type":"quantitative","scale":{"domain":[0,200]},"axis":{"title":null,"values":[0,100,200]}},"y":{"field":"htBleed","type":"quantitative","scale":{"domain":[-1,2]},"axis":{"title":null,"values":[-1,0,1,2]}}}},{"mark":{"type":"line","strokeOpacity":0},"encoding":{"x":{"field":"c","type":"quantitative","scale":{"domain":[0,200]},"axis":{"title":null,"orient":"top","labels":false,"values":[0,100,200]}},"y":{"field":"htBleed","type":"quantitative","scale":{"domain":[-1,2]},"axis":{"title":null,"orient":"right","labels":false,"values":[-1,0,1,2]}}}}],"resolve":{"axis":{"x":"independent","y":"independent"}}},
{"title":"W31","layer":[{"mark":"line","encoding":{"x":{"field":"c","type":"quantitative","scale":{"domain":[0,200]},"axis":{"title":null,"values":[0,100,200]}},"y":{"field":"W31","type":"quantitative","scale":{"domain":[-1,2]},"axis":{"title":null,"values":[-1,0,1,2]}}}},{"mark":{"type":"line","strokeOpacity":0},"encoding":{"x":{"field":"c","type":"quantitative","scale":{"domain":[0,200]},"axis":{"title":null,"orient":"top","labels":false,"values":[0,100,200]}},"y":{"field":"W31","type":"quantitative","scale":{"domain":[-1,2]},"axis":{"title":null,"orient":"right","labels":false,"values":[-1,0,1,2]}}}}],"resolve":{"axis":{"x":"independent","y":"independent"}}},
{"title":"W32","layer":[{"mark":"line","encoding":{"x":{"field":"c","type":"quantitative","scale":{"domain":[0,200]},"axis":{"title":null,"values":[0,100,200]}},"y":{"field":"W32","type":"quantitative","scale":{"domain":[0,2]},"axis":{"title":null,"values":[0,1,2]}}}},{"mark":{"type":"line","strokeOpacity":0},"encoding":{"x":{"field":"c","type":"quantitative","scale":{"domain":[0,200]},"axis":{"title":null,"orient":"top","labels":false,"values":[0,100,200]}},"y":{"field":"W32","type":"quantitative","scale":{"domain":[0,2]},"axis":{"title":null,"orient":"right","labels":false,"values":[0,1,2]}}}}],"resolve":{"axis":{"x":"independent","y":"independent"}}},
{"title":"Fused Signal","layer":[
{"mark":"line","encoding":{"x":{"field":"c","type":"quantitative","scale":{"domain":[0,200]},"axis":{"title":null,"values":[0,100,200]}},"y":{"field":"Fused","type":"quantitative","scale":{"domain":[-1.5,0]},"axis":{"title":null,"values":[-1.5,-1,-0.5,0]}},
"color":{"datum":"data","type":"nominal","scale":{"domain":["data","model"],"range":["#5dba47","#111111"]},"legend":{"title":null,"orient":"none","legendX":623,"legendY":501,"symbolType":"stroke","symbolSize":1900,"clipHeight":18,"labelFontSize":15,"labelColor":"#262626","labelOffset":4,"strokeColor":"#8c8c8c","fillColor":"#ffffff","padding":5,"rowPadding":7}},
"strokeDash":{"datum":"data","type":"nominal","scale":{"domain":["data","model"],"range":[[1,0],[9,6]]},"legend":{"title":null}},
"strokeWidth":{"datum":"data","type":"ordinal","scale":{"domain":["data","model"],"range":[1,3],"padding":0},"legend":{"title":null}}}},
{"data":{"name":"model"},"mark":{"type":"line","strokeWidth":3},"encoding":{"x":{"field":"c","type":"quantitative","scale":{"domain":[0,200]},"axis":null},"y":{"field":"v","type":"quantitative","scale":{"domain":[-1.5,0]},"axis":null},
"color":{"datum":"model","type":"nominal","scale":{"domain":["data","model"],"range":["#5dba47","#111111"]}},
"strokeDash":{"datum":"model","type":"nominal","scale":{"domain":["data","model"],"range":[[1,0],[9,6]]}}}},
{"mark":{"type":"line","strokeOpacity":0},"encoding":{"x":{"field":"c","type":"quantitative","scale":{"domain":[0,200]},"axis":{"title":null,"orient":"top","labels":false,"values":[0,100,200]}},"y":{"field":"Fused","type":"quantitative","scale":{"domain":[-1.5,0]},"axis":{"title":null,"orient":"right","labels":false,"values":[-1.5,-1,-0.5,0]}}}}
],"resolve":{"axis":{"x":"independent","y":"independent"}}}
]}
],
"config":{
"font":"Liberation Sans",
"numberFormat":"~r",
"locale":{"number":{"decimal":".","thousands":",","grouping":[3],"currency":["$",""],"minus":"-"}},
"view":{"continuousWidth":150,"continuousHeight":106,"stroke":"#8c8c8c","strokeWidth":1},
"axis":{"domain":false,"grid":false,"tickSize":-3,"tickColor":"#8c8c8c","tickWidth":1,"labelFontSize":14,"labelColor":"#4d4d4d","labelFlush":false,"labelOverlap":false},
"axisX":{"labelPadding":8},
"axisY":{"labelPadding":7},
"axisTop":{"minExtent":0,"maxExtent":0},
"axisRight":{"minExtent":0,"maxExtent":0},
"title":{"fontSize":14,"fontWeight":"bold","color":"#1a1a1a","offset":-1},
"line":{"color":"#5dba47","strokeWidth":1}
}
}
